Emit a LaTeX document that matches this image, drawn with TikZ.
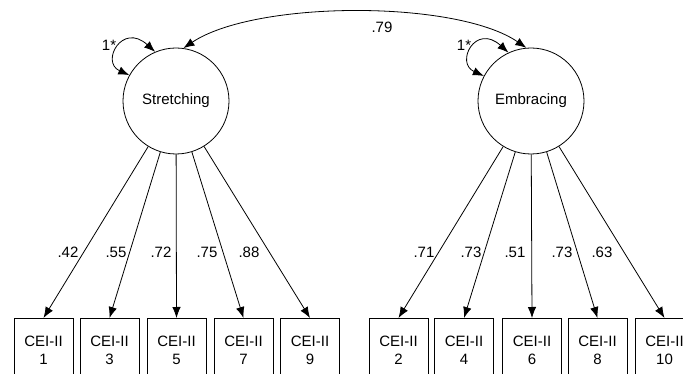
\documentclass[tikz,border=0pt]{standalone}
\usepackage{fontspec}
\setmainfont{Liberation Sans}
\usetikzlibrary{arrows.meta}
\tikzset{
  latent/.style={circle,draw,line width=0.8pt,minimum size=106pt,inner sep=0pt,font=\fontsize{15}{18}\selectfont},
  obs/.style={rectangle,draw,line width=0.8pt,minimum width=59pt,minimum height=64pt,inner sep=0pt,anchor=north,align=center,font=\fontsize{15}{18}\selectfont},
  load/.style={draw,line width=0.8pt,-{Latex[length=11pt,width=8.5pt]}},
  dbl/.style={draw,line width=0.8pt,{Latex[length=11pt,width=8.5pt]}-{Latex[length=11pt,width=8.5pt]}},
  lab/.style={font=\fontsize{15}{18}\selectfont,inner sep=0pt}
}
\begin{document}
\begin{tikzpicture}[x=1pt,y=-1pt]
\useasboundingbox (0,0) rectangle (683,374);
\clip (0,0) rectangle (683,374);
\node[latent] (S) at (176,101) {Stretching};
\node[latent] (E) at (531,101) {Embracing};
\node[obs] (b1) at (43.5,318) {CEI-II\\1};
\node[obs] (b3) at (109.5,318) {CEI-II\\3};
\node[obs] (b5) at (176.5,318) {CEI-II\\5};
\node[obs] (b7) at (243.5,318) {CEI-II\\7};
\node[obs] (b9) at (310,318) {CEI-II\\9};
\node[obs] (b2) at (398.5,318) {CEI-II\\2};
\node[obs] (b4) at (464,318) {CEI-II\\4};
\node[obs] (b6) at (532,318) {CEI-II\\6};
\node[obs] (b8) at (597.5,318) {CEI-II\\8};
\node[obs] (b10) at (664.5,318) {CEI-II\\10};
\foreach \b in {b1,b3,b5,b7,b9} \path[load] (S) -- (\b.north);
\foreach \b in {b2,b4,b6,b8,b10} \path[load] (E) -- (\b.north);
\node[lab] (l1) at (68,252) {.42};
\node[lab] (l3) at (116,252) {.55};
\node[lab] (l5) at (161,252) {.72};
\node[lab] (l7) at (207,252) {.75};
\node[lab] (l9) at (249,252) {.88};
\node[lab] (l2) at (424,252) {.71};
\node[lab] (l4) at (471,252) {.73};
\node[lab] (l6) at (515,252) {.51};
\node[lab] (l8) at (562,252) {.73};
\node[lab] (l10) at (602,252) {.63};
% covariance
\path[dbl] (S.82) .. controls +(72,-48) and +(-70,-48) .. (E.95);
\node[lab] (cv) at (382,27) {.79};
% variances
\path[dbl] (S.151) .. controls +(-29,-13) and +(-33,-30) .. (S.113);
\path[dbl] (E.152) .. controls +(-29,-13) and +(-33,-30) .. (E.115);
\node[lab] (v1) at (109,45) {1*};
\node[lab] (v2) at (464,45) {1*};
\end{tikzpicture}
\end{document}
